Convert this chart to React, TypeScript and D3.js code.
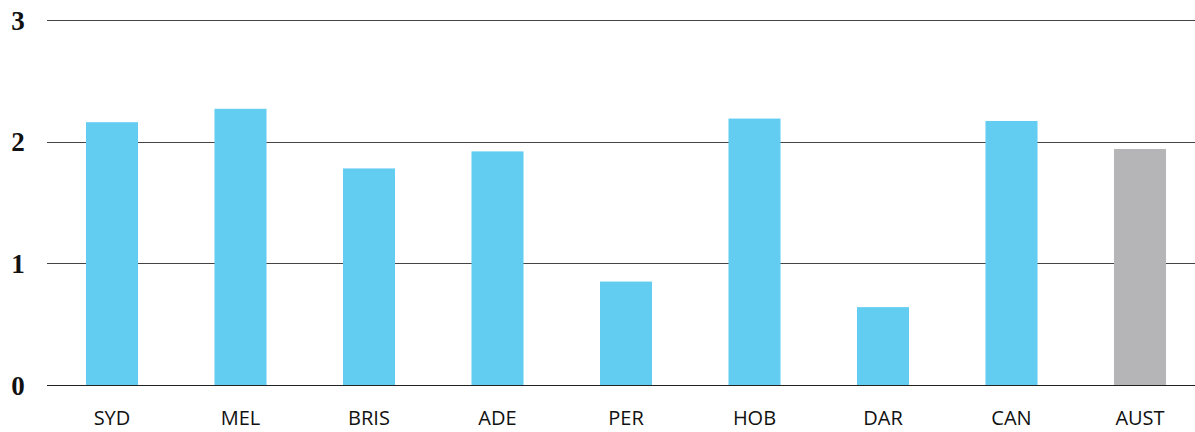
import * as d3 from "d3";
import React, { useEffect, useRef } from "react";

const categories = ["SYD", "MEL", "BRIS", "ADE", "PER", "HOB", "DAR", "CAN", "AUST"];
const values = [2.16, 2.27, 1.78, 1.92, 0.85, 2.19, 0.64, 2.17, 1.94];
const yTicks = [0, 1, 2, 3];

const App = () => {
  const svgRef = useRef<SVGSVGElement>(null);
  const w = 1195;
  const h = 432;

  useEffect(() => {
    const xScale = d3.scaleBand<string>()
      .domain(categories)
      .range([47.75, 1204.25])
      .paddingInner(0.595)
      .paddingOuter(0.2975);
    const yScale = d3.scaleLinear().domain([0, 3]).range([385, 20]);

    const svg = d3.select(svgRef.current);
    svg.selectAll("*").remove();

    // gridlines
    svg.append("g")
      .selectAll("line")
      .data(yTicks)
      .enter()
      .append("line")
      .attr("x1", 47)
      .attr("x2", w)
      .attr("y1", (d) => Math.round(yScale(d)) + 0.5)
      .attr("y2", (d) => Math.round(yScale(d)) + 0.5)
      .attr("stroke", (d) => (d === 0 ? "#222" : "#444"))
      .attr("stroke-width", 1);

    // y tick labels
    svg.append("g")
      .selectAll("text")
      .data(yTicks)
      .enter()
      .append("text")
      .attr("x", 18)
      .attr("y", (d) => yScale(d) + 9.5)
      .attr("text-anchor", "middle")
      .attr("font-family", "Liberation Serif, serif")
      .attr("font-weight", "bold")
      .attr("font-size", 27)
      .attr("fill", "#111")
      .text((d) => d);

    // bars
    svg.append("g")
      .selectAll("rect")
      .data(values)
      .enter()
      .append("rect")
      .attr("x", (d, i) => xScale(categories[i])!)
      .attr("y", (d) => yScale(d))
      .attr("width", xScale.bandwidth())
      .attr("height", (d) => yScale(0) - yScale(d))
      .attr("fill", (d, i) => (categories[i] === "AUST" ? "#b5b5b7" : "#62cdf1"));

    // category labels
    svg.append("g")
      .selectAll("text")
      .data(categories)
      .enter()
      .append("text")
      .attr("x", (d) => xScale(d)! + xScale.bandwidth() / 2)
      .attr("y", 425)
      .attr("text-anchor", "middle")
      .attr("font-family", "Open Sans, DejaVu Sans, sans-serif")
      .attr("font-size", 20)
      .attr("fill", "#111")
      .text((d) => d);
  }, []);

  return (
    <svg
      ref={svgRef}
      width={w}
      height={h}
      style={{ position: "absolute", left: 0, top: 0, background: "#fff" }}
    />
  );
};

export default App;
